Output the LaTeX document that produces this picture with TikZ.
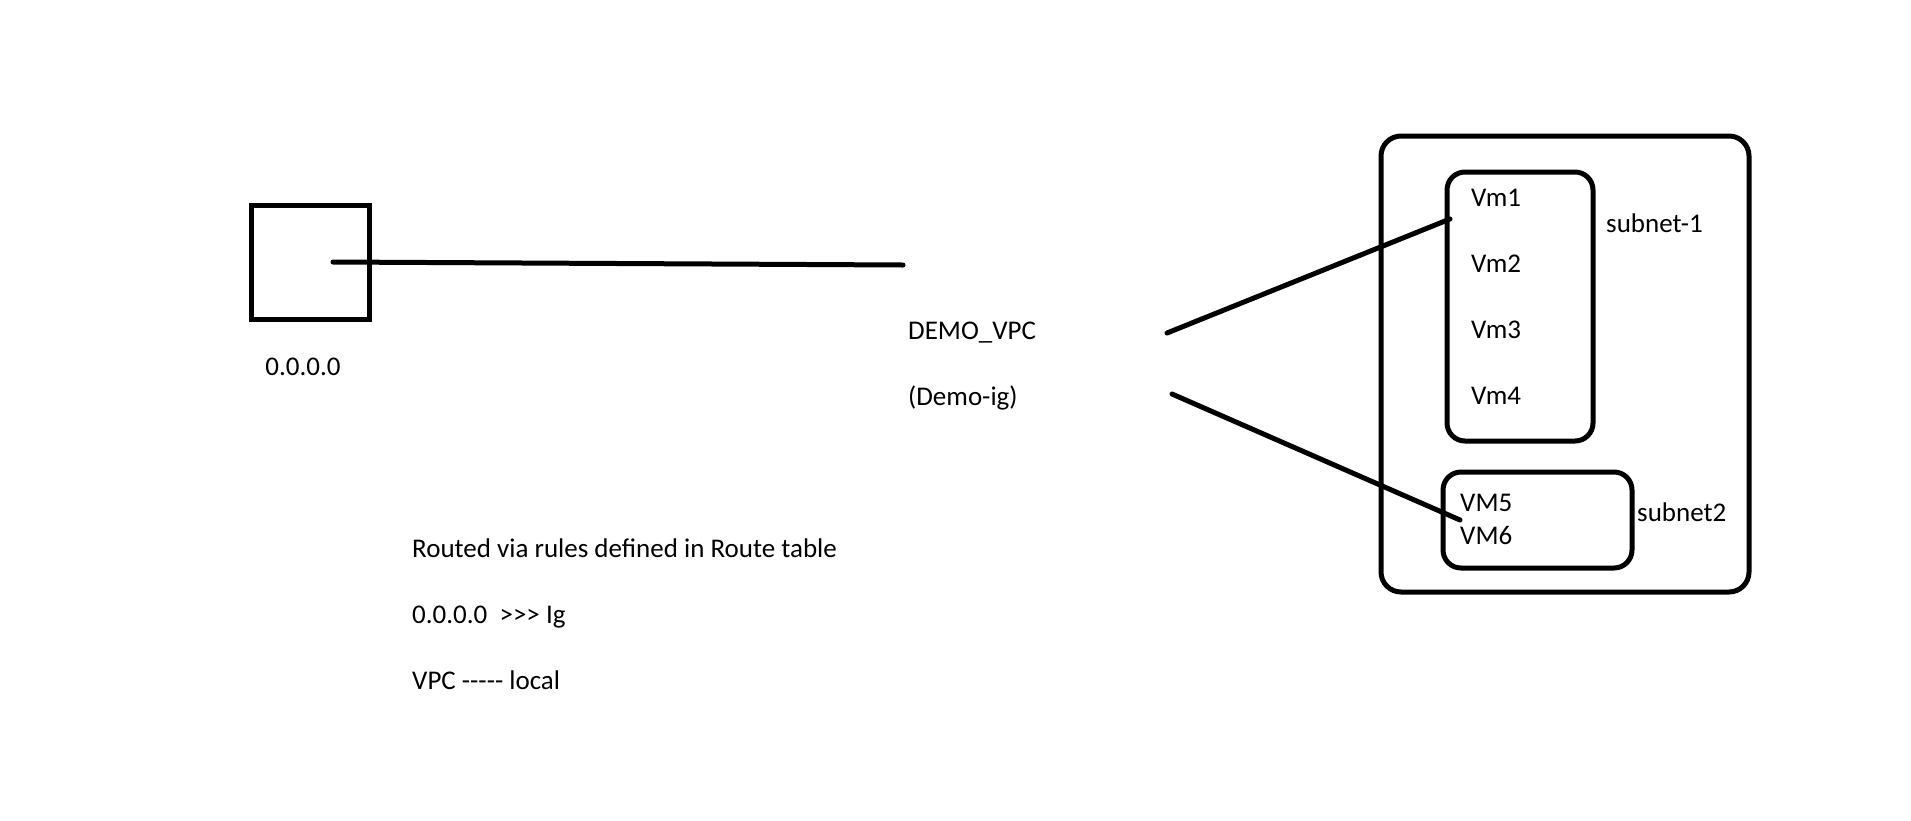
\documentclass[tikz,border=0pt]{standalone}
\usepackage{fontspec}
\setmainfont{Carlito}[Ligatures=TeXOff]
\begin{document}
\begin{tikzpicture}[x=1pt,y=-1pt,
  lbl/.style={anchor=base west,inner sep=0pt,font=\fontsize{27}{32}\selectfont},
  thick line/.style={line width=5pt,line cap=round},
  frame/.style={draw,line width=5pt,rounded corners=20pt},
  gwbox/.style={draw,line width=5pt,minimum width=118pt,minimum height=114pt,inner sep=0pt}]
\useasboundingbox[fill=white] (0,0) rectangle (1911,820);
% internet gateway square
\node[gwbox] (gw) at (310,262) {};
\node[lbl,anchor=base] (gwlbl) at (303,375) {0.0.0.0};
\coordinate (gwin) at (333,262);
\coordinate (vpcend) at (903,265);
\draw[thick line] (gwin) -- (vpcend);
% VPC labels
\node[lbl] (vpc) at (908,339) {DEMO\_VPC};
\node[lbl] (ig) at (908,405) {(Demo-ig)};
% outer VPC frame
\node[frame,minimum width=368pt,minimum height=456pt] (outer) at (1565,364) {};
% subnet 1
\node[frame,minimum width=146pt,minimum height=269pt,rounded corners=18pt] (sub1) at (1520,306.5) {};
\node[lbl] (vm1) at (1471,206) {Vm1};
\node[lbl] (vm2) at (1471,272) {Vm2};
\node[lbl] (vm3) at (1471,338) {Vm3};
\node[lbl] (vm4) at (1471,404) {Vm4};
\node[lbl] (s1lbl) at (1606,232) {subnet-1};
% subnet 2
\node[frame,minimum width=189pt,minimum height=96pt,rounded corners=18pt] (sub2) at (1537.5,520) {};
\node[lbl] (vm5) at (1460,511) {VM5};
\node[lbl] (vm6) at (1460,544) {VM6};
\node[lbl] (s2lbl) at (1637,521) {subnet2};
% connectors from VPC to subnets
\coordinate (c1a) at (1167,333);
\coordinate (c1b) at (1450,219);
\coordinate (c2a) at (1172,394);
\coordinate (c2b) at (1460,520);
\draw[thick line] (c1a) -- (c1b);
\draw[thick line] (c2a) -- (c2b);
% route table notes
\node[lbl] (rt1) at (412,557) {Routed via rules defined in Route table};
\node[lbl] (rt2) at (412,623) {0.0.0.0~~>>> Ig};
\node[lbl] (rt3) at (412,689) {VPC ----- local};
\end{tikzpicture}
\end{document}
